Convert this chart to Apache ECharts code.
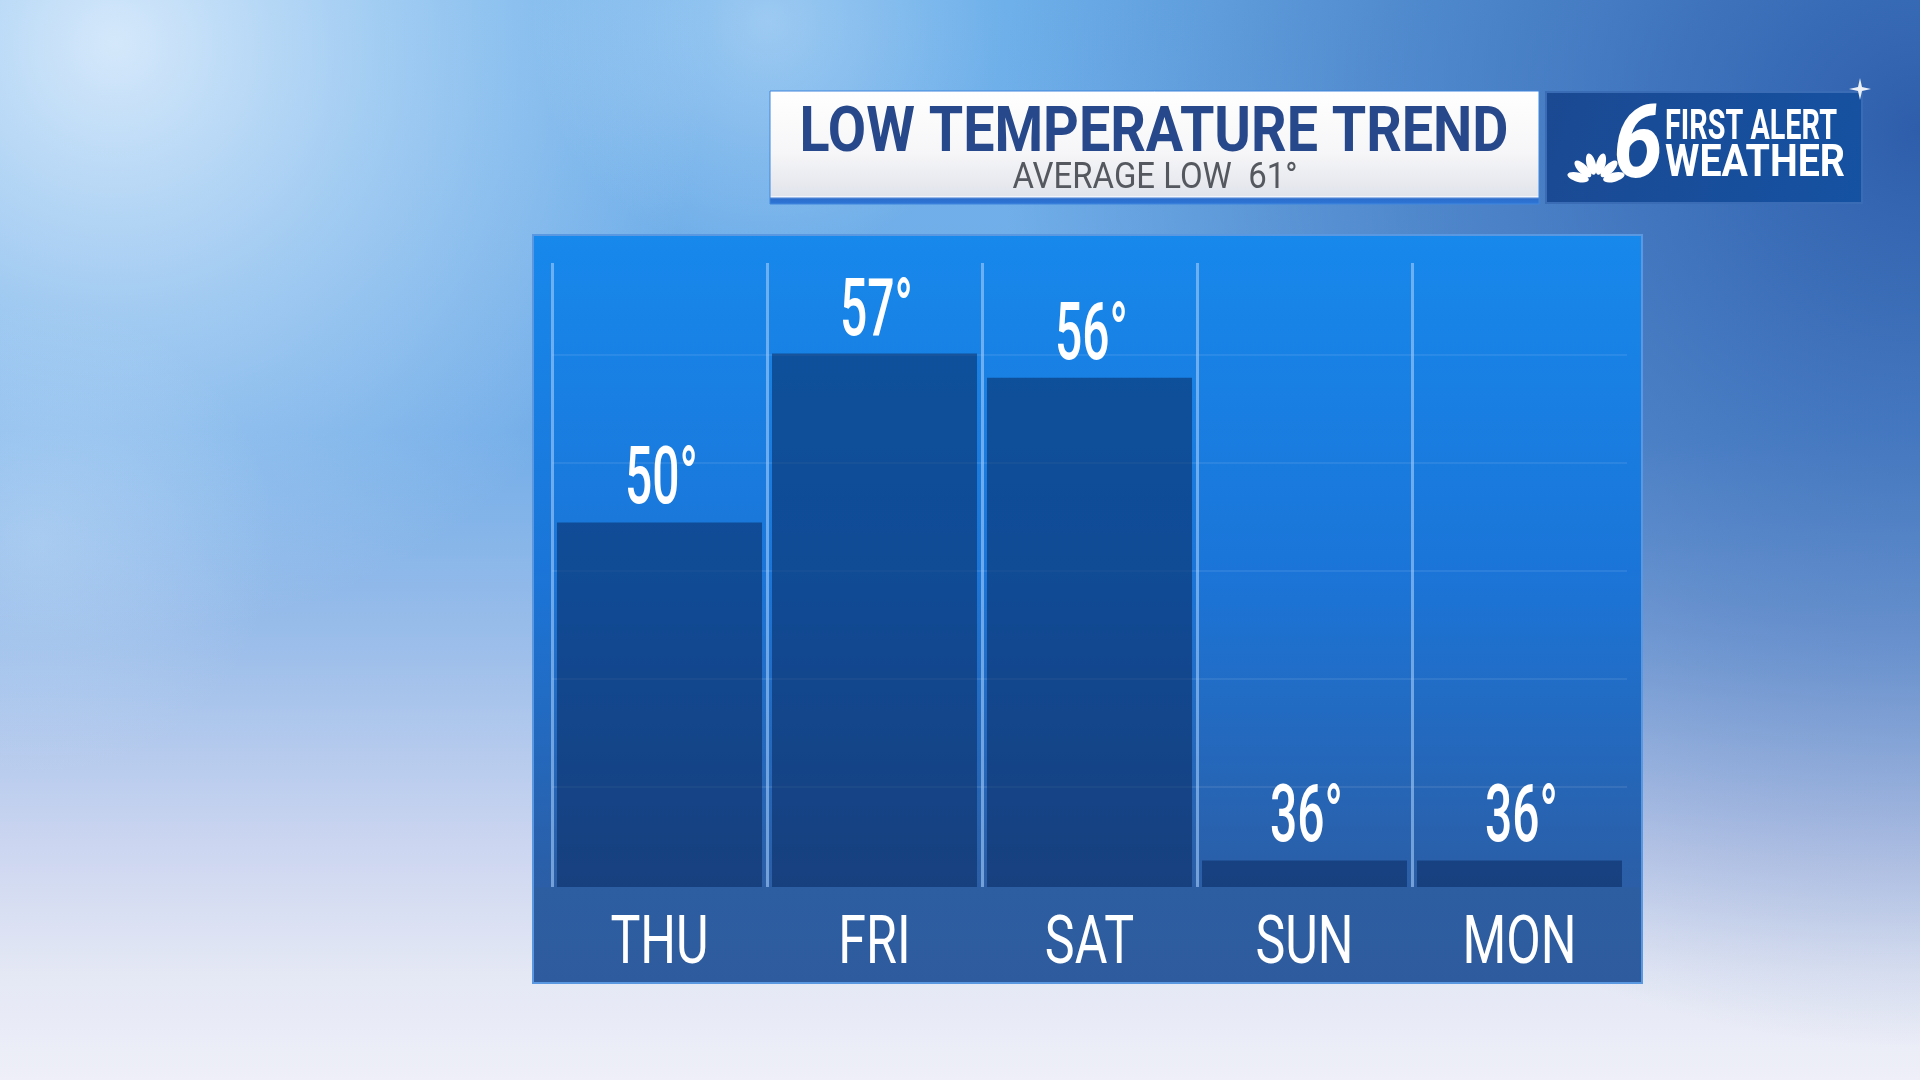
<!DOCTYPE html>
<html><head><meta charset="utf-8">
<script src="https://cdn.jsdelivr.net/npm/echarts@6/dist/echarts.min.js"></script>
<style>html,body{margin:0;padding:0;width:1920px;height:1080px;overflow:hidden;background:#8fbbe6;}#c{width:1920px;height:1080px;}</style>
</head><body><div id="c"></div>
<script>
// ---- data ----
const days = ['THU', 'FRI', 'SAT', 'SUN', 'MON'];
const lows = [50, 57, 56, 36, 36];
const titleText = 'LOW TEMPERATURE TREND';
const subtitleText = 'AVERAGE LOW  61°';
const brandLine1 = 'FIRST ALERT';
const brandLine2 = 'WEATHER';
const brandNumber = '6';
const guideRows = [0, 1, 2, 3, 4];

// ---- style helpers ----
const FONT = 'Roboto, "DejaVu Sans", sans-serif';
const Y_MIN = 34.9, Y_MAX = 60.75;
const chart = echarts.init(document.getElementById('c'), null, {renderer: 'canvas'});
const mctx = document.createElement('canvas').getContext('2d');
function fit(text, font, width) { mctx.font = font; return width / mctx.measureText(text).width; }
function lin(x, y, x2, y2, stops) {
  return {type: 'linear', x: x, y: y, x2: x2, y2: y2, colorStops: stops.map(s => ({offset: s[0], color: s[1]}))};
}
function rad(x, y, r, stops) {
  return {type: 'radial', x: x, y: y, r: r, colorStops: stops.map(s => ({offset: s[0], color: s[1]}))};
}
function sky(z, fill) { return {type: 'rect', z: z, shape: {x: 0, y: 0, width: 1920, height: 1080}, style: {fill: fill}}; }

const titleFont = 'bold 63px ' + FONT;
const subFont = '36px ' + FONT;
const b1Font = 'bold 42px ' + FONT;
const b2Font = 'bold 44px ' + FONT;
const numFont = 'italic bold 102px ' + FONT;
const valueFont = '500 80px ' + FONT;
const dayFont = '66px ' + FONT;

// NBC peacock (decoration)
const feathers = [];
for (let i = 0; i < 6; i++) {
  const th = (165 - i * 30) * Math.PI / 180;
  feathers.push({type: 'ellipse', z: 120,
    x: 1596 + 18.5 * Math.cos(th), y: 182 - 18.5 * Math.sin(th), rotation: th - Math.PI / 2,
    shape: {cx: 0, cy: 0, rx: 4.6, ry: 11}, style: {fill: '#ffffff'}});
}

const option = {
  animation: false,
  graphic: [
    // sky background
    sky(-200, lin(0, 0, 0, 1, [[0, '#6eb0ea'], [0.4, '#72ade8'], [0.6, '#9cbeea'], [0.78, '#cbd5f0'], [0.9, '#e4e8f5'], [1, '#eeeff8']])),
    sky(-199, rad(1, 0.12, 0.85, [[0, 'rgba(35,80,160,0.85)'], [0.55, 'rgba(40,88,168,0.45)'], [1, 'rgba(40,88,168,0)']])),
    sky(-198, rad(0.06, 0.04, 0.55, [[0, 'rgba(238,246,255,0.8)'], [0.5, 'rgba(225,240,253,0.4)'], [1, 'rgba(225,240,253,0)']])),
    sky(-197, rad(0.4, 0.02, 0.22, [[0, 'rgba(225,240,253,0.4)'], [1, 'rgba(225,240,253,0)']])),
    sky(-196, rad(0.02, 0.5, 0.22, [[0, 'rgba(220,236,252,0.3)'], [1, 'rgba(220,236,252,0)']])),
    // chart panel
    {type: 'rect', z: -100, shape: {x: 533, y: 235, width: 1109, height: 748},
      style: {fill: lin(0, 0, 0, 1, [[0, '#1788ec'], [0.45, '#1b75d8'], [0.87, '#2b5ea6'], [0.872, '#2d5ea2'], [1, '#2e5b9d']]), stroke: '#5a98e2', lineWidth: 2}},
    // title box
    {type: 'rect', z: 100, shape: {x: 770, y: 91, width: 769, height: 113},
      style: {fill: lin(0, 0, 0, 1, [[0, '#ffffff'], [0.55, '#f6f6f8'], [0.925, '#e1e4eb'], [0.93, '#f2f5fb'], [0.95, '#2a6ccc'], [1, '#2f78d8']]), stroke: '#3f86dc', lineWidth: 1}},
    {type: 'text', z: 110, x: 1154, y: 167, scaleX: fit(titleText, titleFont, 709),
      style: {text: titleText, font: titleFont, fill: '#27498c', align: 'center', verticalAlign: 'bottom'}},
    {type: 'text', z: 110, x: 1155, y: 197, scaleX: fit(subtitleText, subFont, 285),
      style: {text: subtitleText, font: subFont, fill: '#55595f', align: 'center', verticalAlign: 'bottom'}},
    // brand box
    {type: 'rect', z: 100, shape: {x: 1546, y: 92, width: 316, height: 111},
      style: {fill: lin(0, 0, 1, 1, [[0, '#1b4992'], [1, '#1552a2']]), stroke: '#3a6bb5', lineWidth: 2}},
    {type: 'text', z: 115, x: 1638, y: 202, scaleX: fit(brandNumber, numFont, 50),
      style: {text: brandNumber, font: numFont, fill: '#ffffff', align: 'center', verticalAlign: 'bottom'}},
    {type: 'text', z: 115, x: 1665, y: 149, scaleX: fit(brandLine1, b1Font, 172),
      style: {text: brandLine1, font: b1Font, fill: '#ffffff', align: 'left', verticalAlign: 'bottom'}},
    {type: 'text', z: 115, x: 1665, y: 187, scaleX: fit(brandLine2, b2Font, 180),
      style: {text: brandLine2, font: b2Font, fill: '#ffffff', align: 'left', verticalAlign: 'bottom'}},
    {type: 'polygon', z: 120, shape: {points: [[1860, 78], [1862, 87], [1871, 89], [1862, 91], [1860, 100], [1858, 91], [1849, 89], [1858, 87]]}, style: {fill: 'rgba(255,255,255,0.9)'}}
  ].concat(feathers),
  grid: [
    {left: 552, right: 293, top: 263, bottom: 193},
    {left: 552, right: 293, top: 355, bottom: 293}
  ],
  xAxis: [
    {type: 'category', gridIndex: 0, data: days,
      axisLine: {show: false}, axisTick: {show: false}, axisLabel: {show: false},
      splitLine: {show: true, showMaxLine: false, lineStyle: {color: 'rgba(165,205,248,0.6)', width: 3}}},
    {type: 'value', gridIndex: 1, show: false}
  ],
  yAxis: [
    {type: 'value', gridIndex: 0, min: Y_MIN, max: Y_MAX, show: false, splitLine: {show: false}},
    {type: 'value', gridIndex: 1, min: guideRows[0], max: guideRows[guideRows.length - 1], interval: 1,
      axisLine: {show: false}, axisTick: {show: false}, axisLabel: {show: false},
      splitLine: {show: true, lineStyle: {color: 'rgba(255,255,255,0.08)', width: 2}}}
  ],
  series: [
    {type: 'bar', xAxisIndex: 0, yAxisIndex: 0, data: lows, barWidth: 205,
      itemStyle: {color: 'rgba(8,40,95,0.55)'}},
    // value labels (condensed via horizontal scale)
    {type: 'custom', xAxisIndex: 0, yAxisIndex: 0, z: 5,
      data: lows.map((v, i) => [i, v]),
      renderItem: function (params, api) {
        const p = api.coord([api.value(0), api.value(1)]);
        return {type: 'text', x: p[0] + 2, y: p[1] + 1, scaleX: 0.6,
          style: {text: api.value(1) + '°', font: valueFont, fill: '#ffffff', align: 'center', verticalAlign: 'bottom'}};
      }},
    // day labels
    {type: 'custom', xAxisIndex: 0, yAxisIndex: 0, z: 5,
      data: days.map((d, i) => [i, Y_MIN]),
      renderItem: function (params, api) {
        const p = api.coord([api.value(0), api.value(1)]);
        return {type: 'text', x: p[0], y: p[1] + 92, scaleX: 0.76,
          style: {text: days[params.dataIndex], font: dayFont, fill: '#ffffff', align: 'center', verticalAlign: 'bottom'}};
      }}
  ]
};
chart.setOption(option);
</script>
</body></html>
